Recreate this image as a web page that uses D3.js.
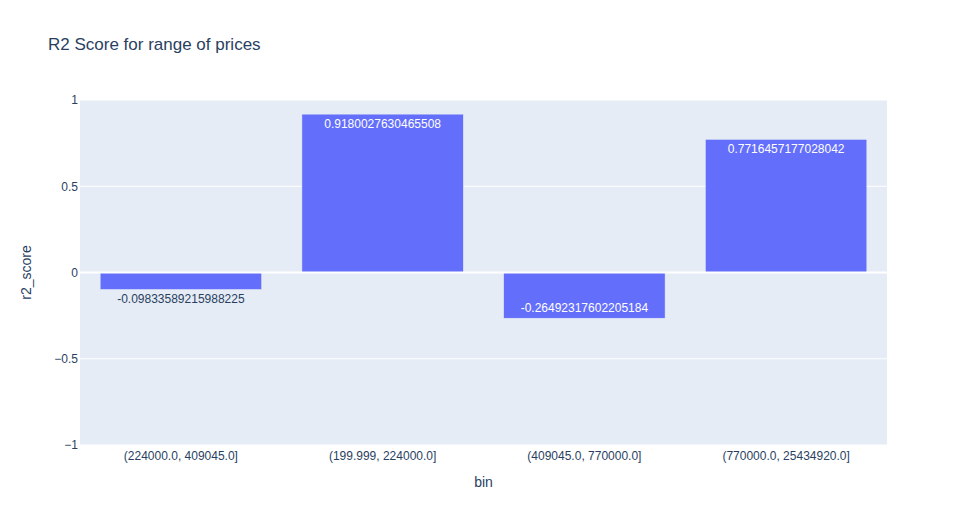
<!DOCTYPE html>
<html><head><meta charset="utf-8">
<script src="https://cdn.jsdelivr.net/npm/d3@7"></script>
<style>body{margin:0;background:#fff;}svg{display:block;font-family:"Liberation Sans",Arial,sans-serif;}</style>
</head><body>
<svg id="c" width="966" height="525"></svg>
<script>
const categories = ["(224000.0, 409045.0]","(199.999, 224000.0]","(409045.0, 770000.0]","(770000.0, 25434920.0]"];
const r2Values = [-0.09833589215988225, 0.9180027630465508, -0.26492317602205184, 0.7716457177028042];
const valueLabels = ["-0.09833589215988225","0.9180027630465508","-0.26492317602205184","0.7716457177028042"];
const yTicks = [-1, -0.5, 0, 0.5, 1];
const yTickLabels = ["\u22121","\u22120.5","0","0.5","1"];

const svg = d3.select("#c");
const m = {l:80, r:79, t:100, b:80};
const W = 966, H = 525;
const x = d3.scaleBand().domain(categories).range([m.l, W-m.r]).paddingInner(0.2).paddingOuter(0.1);
const y = d3.scaleLinear().domain([-1,1]).range([H-m.b, m.t]);
const txt = "#2a3f5f";

svg.append("rect").attr("x",m.l).attr("y",m.t).attr("width",W-m.r-m.l).attr("height",H-m.b-m.t).attr("fill","#E5ECF6");

// gridlines
svg.append("g").selectAll("line").data(yTicks.filter(d=>d!==0)).join("line")
  .attr("x1",m.l).attr("x2",W-m.r).attr("y1",d=>y(d)).attr("y2",d=>y(d))
  .attr("stroke","#fff").attr("stroke-width",1);

// y axis
const ya = d3.axisLeft(y).tickValues(yTicks).tickFormat((d,i)=>yTickLabels[i]).tickSize(0).tickPadding(2);
const gy = svg.append("g").attr("transform",`translate(${m.l},0)`).call(ya);
gy.select(".domain").remove();
gy.selectAll("text").attr("fill",txt).style("font-size","12px").style("font-family","inherit");

// x axis
const xa = d3.axisBottom(x).tickSize(0).tickPadding(6);
const gx = svg.append("g").attr("transform",`translate(0,${H-m.b})`).call(xa);
gx.select(".domain").remove();
gx.selectAll("text").attr("fill",txt).style("font-size","12px").style("font-family","inherit");

// bars
svg.append("g").selectAll("rect").data(r2Values).join("rect")
  .attr("x",(d,i)=>x(categories[i])).attr("width",x.bandwidth())
  .attr("y",d=>y(Math.max(0,d))).attr("height",d=>Math.abs(y(d)-y(0)))
  .attr("fill","#636efa").attr("stroke","#E5ECF6").attr("stroke-width",0.5);

// zero line
svg.append("line").attr("x1",m.l).attr("x2",W-m.r).attr("y1",y(0)).attr("y2",y(0))
  .attr("stroke","#fff").attr("stroke-width",2);

// bar labels
svg.append("g").selectAll("text").data(r2Values).join("text")
  .attr("x",(d,i)=>x(categories[i])+x.bandwidth()/2)
  .attr("text-anchor","middle").style("font-size","12px")
  .each(function(d,i){
    const h = Math.abs(y(d)-y(0));
    const inside = h > 20;
    const sel = d3.select(this).text(valueLabels[i]);
    if (inside) {
      sel.attr("fill","#fff");
      if (d>=0) sel.attr("y", y(d)+13.5);
      else sel.attr("y", y(d)-6.5);
    } else {
      sel.attr("fill",txt);
      if (d>=0) sel.attr("y", y(d)-4);
      else sel.attr("y", y(d)+13.5);
    }
  });

// title
svg.append("text").attr("x",48).attr("y",50).attr("fill",txt).style("font-size","17px").text("R2 Score for range of prices");
// axis titles
svg.append("text").attr("x",(m.l+W-m.r)/2).attr("y",487).attr("text-anchor","middle").attr("fill",txt).style("font-size","14px").text("bin");
svg.append("text").attr("transform",`translate(31,${(m.t+H-m.b)/2}) rotate(-90)`).attr("text-anchor","middle").attr("fill",txt).style("font-size","14px").text("r2_score");
</script>
</body></html>
